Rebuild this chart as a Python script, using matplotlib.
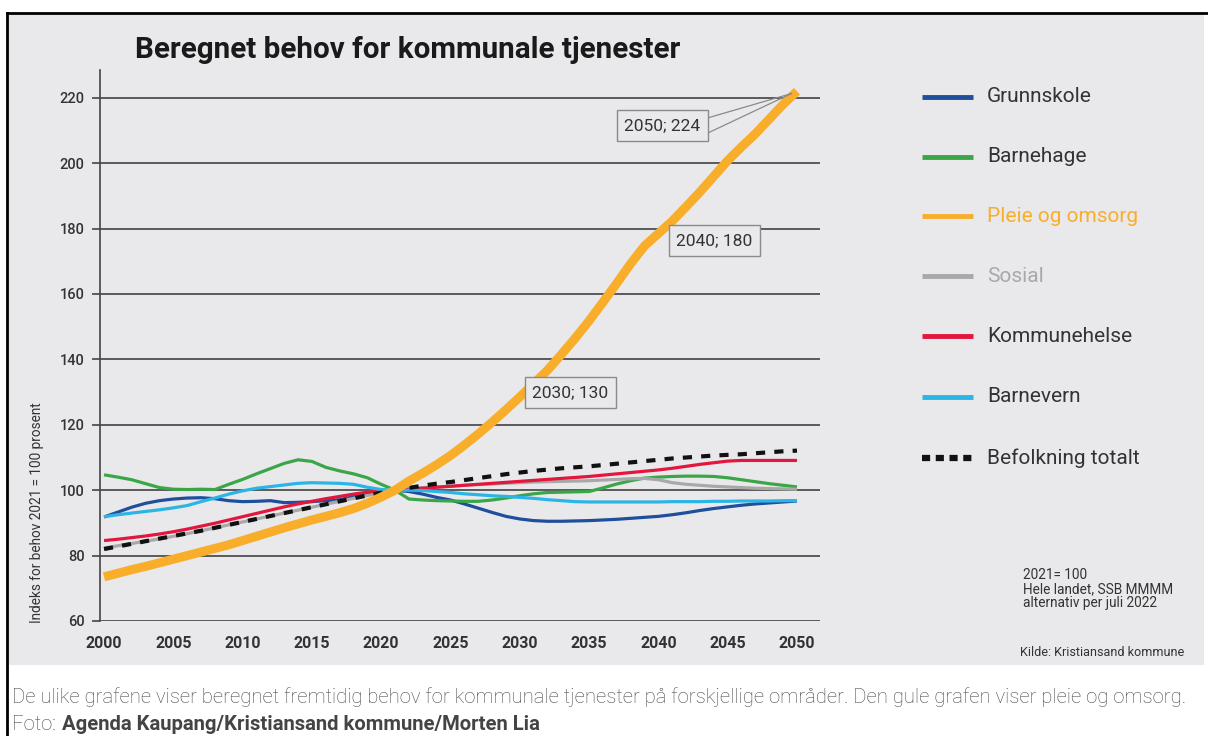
import matplotlib
matplotlib.use("Agg")
import matplotlib.pyplot as plt
from matplotlib.lines import Line2D

FONT = ['Roboto', 'DejaVu Sans']

years = list(range(2000, 2051))

grunnskole = [91.8, 93.3, 94.8, 96.0, 96.8, 97.3, 97.6, 97.7, 97.4, 96.8,
              96.5, 96.6, 96.8, 96.2, 96.3, 96.5, 96.8, 97.1, 98.0, 99.0,
              99.6, 100.0, 99.6, 98.8, 97.8, 97.0, 95.8, 94.5, 93.2, 92.0,
              91.2, 90.7, 90.5, 90.5, 90.6, 90.7, 90.9, 91.1, 91.4, 91.7,
              92.0, 92.5, 93.1, 93.8, 94.4, 94.9, 95.4, 95.8, 96.1, 96.4, 96.7]
barnehage = [104.7, 104.0, 103.2, 102.0, 100.8, 100.3, 100.2, 100.3, 100.2, 101.8,
             103.3, 105.0, 106.6, 108.2, 109.3, 108.8, 107.0, 105.9, 105.0, 103.8,
             101.8, 100.0, 97.3, 97.0, 96.8, 96.7, 96.6, 96.6, 97.0, 97.6,
             98.3, 98.9, 99.3, 99.4, 99.5, 99.6, 100.7, 101.9, 102.9, 103.7,
             104.0, 104.2, 104.3, 104.3, 104.2, 103.8, 103.2, 102.6, 102.0, 101.5, 101.0]
pleie = [73.5, 74.6, 75.7, 76.7, 77.8, 78.9, 80.0, 81.1, 82.2, 83.3,
         84.6, 85.9, 87.2, 88.5, 89.7, 90.9, 92.0, 93.1, 94.4, 96.0,
         97.9, 100.0, 102.8, 105.2, 107.8, 110.6, 113.8, 117.2, 120.8, 124.6,
         128.5, 132.6, 136.7, 141.5, 146.5, 151.8, 157.5, 163.3, 169.3, 174.7,
         178.5, 182.3, 186.7, 191.2, 196.0, 200.8, 205.0, 209.0, 213.5, 218.0, 222.0]
sosial = [82.3, 83.0, 83.7, 84.4, 85.1, 85.9, 86.7, 87.6, 88.5, 89.4,
          90.3, 91.2, 92.1, 93.0, 93.9, 94.8, 95.7, 96.6, 97.5, 98.4,
          99.2, 100.0, 100.5, 100.8, 101.0, 101.2, 101.5, 101.7, 101.9, 102.1,
          102.3, 102.5, 102.6, 102.7, 102.8, 102.9, 103.1, 103.3, 103.5, 103.6,
          103.2, 102.3, 101.8, 101.5, 101.2, 101.0, 100.8, 100.6, 100.5, 100.4, 100.3]
kommunehelse = [84.6, 85.0, 85.5, 86.0, 86.6, 87.3, 88.1, 89.0, 89.9, 90.9,
                91.9, 92.9, 93.9, 94.9, 95.8, 96.6, 97.4, 98.1, 98.8, 99.4,
                99.8, 100.0, 100.3, 100.6, 100.9, 101.2, 101.5, 101.8, 102.1, 102.4,
                102.7, 103.0, 103.3, 103.6, 103.9, 104.2, 104.6, 105.0, 105.4, 105.8,
                106.2, 106.7, 107.3, 107.9, 108.4, 108.9, 109.1, 109.1, 109.1, 109.1, 109.1]
barnevern = [91.9, 92.5, 93.0, 93.5, 94.0, 94.6, 95.3, 96.5, 97.6, 98.8,
             99.8, 100.6, 101.1, 101.6, 102.1, 102.3, 102.2, 102.1, 101.8, 100.9,
             100.2, 100.0, 100.0, 99.9, 99.6, 99.3, 98.9, 98.6, 98.3, 98.1,
             97.8, 97.5, 97.1, 96.8, 96.5, 96.4, 96.4, 96.4, 96.4, 96.4,
             96.4, 96.5, 96.5, 96.5, 96.6, 96.6, 96.7, 96.7, 96.7, 96.8, 96.8]
befolkning = [82.0, 82.8, 83.6, 84.4, 85.2, 86.0, 86.8, 87.6, 88.5, 89.4,
              90.3, 91.2, 92.1, 93.0, 93.9, 94.8, 95.7, 96.6, 97.5, 98.4,
              99.2, 100.0, 100.7, 101.4, 102.0, 102.5, 103.1, 103.7, 104.3, 104.9,
              105.4, 105.9, 106.3, 106.7, 107.0, 107.3, 107.7, 108.1, 108.5, 108.9,
              109.3, 109.7, 110.0, 110.3, 110.6, 110.8, 111.0, 111.3, 111.6, 111.9, 112.1]

labels = ['Grunnskole', 'Barnehage', 'Pleie og omsorg', 'Sosial',
          'Kommunehelse', 'Barnevern', 'Befolkning totalt']
colors = ['#1f4f9c', '#3aa648', '#f9ae2b', '#a8a8a8', '#e3173e', '#2bb5e6', '#111111']

# callouts on the orange line: (text, label position)
callouts = [('2030; 130', (2033.65, 129.9)),
            ('2040; 180', (2044.05, 176.3)),
            ('2050; 224', (2040.3, 211.5))]
end_point = (2049.6, 221.3)

bg = '#e9e9eb'
fig = plt.figure(figsize=(12.08, 7.36), dpi=100)
fig.patch.set_facecolor('white')

# grey panel + frame
fig.add_artist(plt.Rectangle((9 / 1208, 1 - 665 / 736), 1195 / 1208, 651 / 736,
                             transform=fig.transFigure, facecolor=bg, edgecolor='none', zorder=-5))
fig.add_artist(Line2D([7.5 / 1208, 7.5 / 1208], [0, 1 - 13 / 736], transform=fig.transFigure,
                      color='black', lw=2))
fig.add_artist(Line2D([7.5 / 1208, 1], [1 - 13 / 736, 1 - 13 / 736], transform=fig.transFigure,
                      color='black', lw=2))

ax = fig.add_axes([100 / 1208, 1 - 621 / 736, 720 / 1208, 551 / 736])
ax.set_facecolor(bg)
for s in ['top', 'right', 'bottom']:
    ax.spines[s].set_visible(False)
ax.spines['left'].set_color('#444444')
ax.spines['left'].set_linewidth(1.2)

ax.set_xlim(1999.71, 2051.66)
ax.set_ylim(60, 228.5)
yt = list(range(60, 221, 20))
for v in yt:
    ax.axhline(v, color='#5a5a5a', lw=1.4, zorder=1)
ax.set_yticks(yt)
ax.set_xticks(list(range(2000, 2051, 5)))
ax.tick_params(axis='y', length=6, width=1.2, color='#444444', pad=5)
ax.tick_params(axis='x', length=0, pad=11)
for t in ax.get_yticklabels():
    t.set_family(FONT)
    t.set_fontsize(10.5)
    t.set_fontweight('medium')
    t.set_color('#333333')
for t in ax.get_xticklabels():
    t.set_family(FONT)
    t.set_fontsize(11.5)
    t.set_fontweight('bold')
    t.set_color('#333333')

series = [grunnskole, barnehage, pleie, sosial, kommunehelse, barnevern]
for i, vals in enumerate(series):
    lw = 6.5 if i == 2 else 2.3
    z = 6 if i == 2 else 3
    ax.plot(years, vals, color=colors[i], lw=lw, zorder=z, solid_capstyle='butt')
ax.plot(years, befolkning, color=colors[6], lw=3, ls=(0, (2.2, 2.2)), zorder=4)

for txt, pos in callouts:
    ax.text(pos[0], pos[1], txt, ha='center', va='center', fontsize=12.5, family=FONT,
            color='#333333', zorder=8,
            bbox=dict(boxstyle='square,pad=0.45', fc=bg, ec='#8a8a8a', lw=1))
for ly in (213.9, 209.3):
    ax.plot([2043.6, end_point[0]], [ly, end_point[1]], color='#8a8a8a', lw=0.9, zorder=7)

ax.set_ylabel('Indeks for behov 2021 = 100 prosent', family=FONT, fontsize=9.8,
              color='#333333', labelpad=0)
ax.yaxis.set_label_coords(-56 / 720, 0.5 - (513 - 345.5) / 551)

# title
fig.text(135 / 1208, 1 - 50 / 736, 'Beregnet behov for kommunale tjenester', family=FONT,
         fontsize=21.3, fontweight='bold', color='#1a1a1a', va='center', ha='left')

# legend
leg_y = [97, 157, 216, 276, 336, 397, 458]
text_colors = ['#333333', '#333333', '#f9ae2b', '#a8a8a8', '#333333', '#333333', '#333333']
for i, yy in enumerate(leg_y):
    fy = 1 - yy / 736
    if i == 6:
        fig.add_artist(Line2D([922 / 1208, 973 / 1208], [fy, fy], transform=fig.transFigure,
                              color=colors[i], lw=4.5, ls=(0, (1.3, 0.9))))
    else:
        fig.add_artist(Line2D([922 / 1208, 973 / 1208], [fy, fy], transform=fig.transFigure,
                              color=colors[i], lw=3.5, solid_capstyle='butt'))
    fig.text(987 / 1208, fy, labels[i], family=FONT, fontsize=15, color=text_colors[i],
             va='center', ha='left')

fig.text(1023 / 1208, 1 - 589 / 736, '2021= 100\nHele landet, SSB MMMM\nalternativ per juli 2022',
         family=FONT, fontsize=9.8, color='#333333', va='center', ha='left', linespacing=1.02)
fig.text(1020 / 1208, 1 - 653 / 736, 'Kilde: Kristiansand kommune', family=FONT, fontsize=9.1,
         color='#333333', va='center', ha='left')

# caption below the graphic
fig.text(12 / 1208, 1 - 697 / 736,
         'De ulike grafene viser beregnet fremtidig behov for kommunale tjenester på forskjellige '
         'områder. Den gule grafen viser pleie og omsorg.',
         family=FONT, fontsize=14.6, fontweight='light', color='#474747', va='center', ha='left')
fig.text(12 / 1208, 1 - 724 / 736, 'Foto:', family=FONT, fontsize=14.6, fontweight='light',
         color='#474747', va='center', ha='left')
fig.text(62 / 1208, 1 - 724 / 736, 'Agenda Kaupang/Kristiansand kommune/Morten Lia', family=FONT,
         fontsize=14.6, fontweight='bold', color='#444444', va='center', ha='left')

fig.savefig('out.png', dpi=100, facecolor='white')
